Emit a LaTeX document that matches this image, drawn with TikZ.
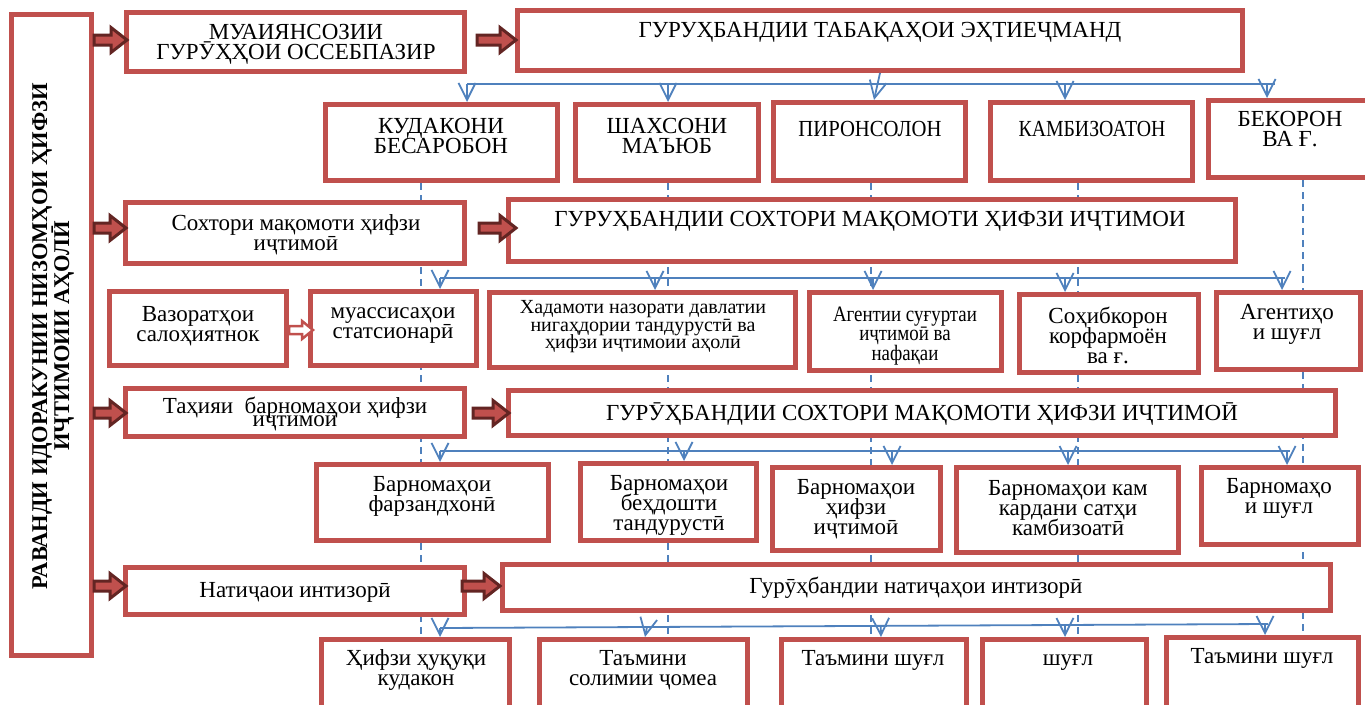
\documentclass[tikz,border=0pt]{standalone}
\usepackage{fontspec}
\setmainfont{Liberation Serif}
\newfontfamily\cndA[FakeStretch=0.9]{Liberation Serif}
\newfontfamily\cndB[FakeStretch=0.86]{Liberation Serif}
\usetikzlibrary{arrows.meta,calc}
\definecolor{boxred}{HTML}{C0504D}
\definecolor{darkred}{HTML}{632523}
\definecolor{lineblue}{HTML}{4F81BD}
\pgfdeclarelayer{bg}
\pgfsetlayers{bg,main}
\newcommand{\tightls}{\lineskiplimit=-100pt\lineskip=0pt\relax}
\newcommand{\bx}[5]{\node[boxst, minimum width={#4-#2-5}, minimum height={#5-#3-5}] (#1) at ({(#2+#4)/2},{(#3+#5)/2}) {};}
\newcommand{\tn}[5][]{\node[txt,#1] (#2) at (#3,#4) {#5};}
\newcommand{\barrow}[2]{\path[blockarr] let \p1=#1, \p2=#2 in (\x1,\y1+5pt) -- (\x2-16pt,\y1+5pt) -- (\x2-16pt,\y1+12.5pt) -- (\x2,\y1) -- (\x2-16pt,\y1-12.5pt) -- (\x2-16pt,\y1-5pt) -- (\x1,\y1-5pt) -- cycle;}
\newcommand{\warrow}[2]{\path[whitearr] let \p1=#1, \p2=#2 in (\x1,\y1+4pt) -- (\x2-11pt,\y1+4pt) -- (\x2-11pt,\y1+9pt) -- (\x2,\y1) -- (\x2-11pt,\y1-9pt) -- (\x2-11pt,\y1-4pt) -- (\x1,\y1-4pt) -- cycle;}
\begin{document}
\begin{tikzpicture}[x=1pt,y=-1pt,
  boxst/.style={draw=boxred, line width=5pt, fill=white, inner sep=0pt, line join=miter},
  txt/.style={inner sep=0pt, align=center, yshift=-2pt, font=\fontsize{23}{20}\selectfont\tightls},
  dashv/.style={draw=lineblue, line width=1.5pt, dash pattern=on 7pt off 5pt},
  conn/.style={draw=lineblue, line width=1.8pt},
  arr/.style={conn, -{Straight Barb[length=17pt,width=17pt,line width=1.8pt]}},
  blockarr/.style={fill=boxred, draw=darkred, line width=3pt, line join=miter},
  whitearr/.style={fill=white, draw=boxred, line width=2.5pt, line join=miter},
]
\useasboundingbox (0,0) rectangle (1365,704);
\clip (0,0) rectangle (1365,704);
\coordinate (r1) at (0,40);
\coordinate (r2) at (0,228);
\coordinate (r3) at (0,413);
\coordinate (r4) at (0,586);
\coordinate (rw) at (0,330);

% boxes
\bx{L}{9}{12}{94}{658}
\bx{A1}{124}{10}{467}{74}
\bx{B1}{515}{8}{1245}{73}
\bx{C1}{323}{102}{560}{183}
\bx{C2}{573}{102}{761}{183}
\bx{C3}{771}{100}{968}{183}
\bx{C4}{988}{100}{1195}{183}
\bx{C5}{1206}{98}{1372}{180}
\bx{A2}{123}{200}{467}{266}
\bx{B2}{506}{197}{1238}{264}
\bx{D0}{107}{289}{289}{368}
\bx{D1}{308}{289}{479}{368}
\bx{D2}{487}{290}{798}{370}
\bx{D3}{807}{290}{1004}{373}
\bx{D4}{1017}{292}{1201}{375}
\bx{D5}{1214}{290}{1363}{372}
\bx{A3}{123}{386}{467}{439}
\bx{B3}{506}{388}{1338}{438}
\bx{E1}{314}{462}{551}{543}
\bx{E2}{578}{461}{759}{543}
\bx{E3}{770}{465}{943}{553}
\bx{E4}{954}{465}{1181}{555}
\bx{E5}{1199}{465}{1361}{547}
\bx{A4}{123}{565}{467}{617}
\bx{B4}{500}{562}{1333}{613}
\bx{F1}{319}{637}{512}{712}
\bx{F2}{537}{637}{750}{712}
\bx{F3}{779}{637}{969}{712}
\bx{F4}{980}{637}{1149}{712}
\bx{F5}{1164}{635}{1361}{712}

% texts
\tn[rotate=90, yshift=0pt, font=\bfseries\fontsize{22.5}{22}\selectfont\tightls]{Lt}{53}{334}{РАВАНДИ ИДОРАКУНИИ НИЗОМҲОИ ҲИФЗИ\\ИҶТИМОИИ АҲОЛӢ}
\tn{A1t}{296}{42}{МУАИЯНСОЗИИ\\ГУРӮҲҲОИ ОССЕБПАЗИР}
\tn{B1t}{880}{30}{ГУРУҲБАНДИИ ТАБАҚАҲОИ ЭҲТИЕҶМАНД}
\tn{C1t}{441}{134}{КУДАКОНИ\\БЕСАРОБОН}
\tn{C2t}{667}{134}{ШАХСОНИ\\МАЪЮБ}
\tn[font=\cndA\fontsize{23}{20}\selectfont]{C3t}{870}{127}{ПИРОНСОЛОН}
\tn[font=\cndB\fontsize{23}{20}\selectfont]{C4t}{1092}{127}{КАМБИЗОАТОН}
\tn{C5t}{1290}{127}{БЕКОРОН\\ВА Ғ.}
\tn{A2t}{296}{233}{Сохтори мақомоти ҳифзи\\иҷтимоӣ}
\tn{B2t}{870}{219}{ГУРУҲБАНДИИ СОХТОРИ МАҚОМОТИ ҲИФЗИ ИҶТИМОИ}
\tn{D0t}{198}{324}{Вазоратҳои\\салоҳиятнок}
\tn{D1t}{393}{324}{муассисаҳои\\статсионарӣ}
\tn[font=\fontsize{20}{17.5}\selectfont\tightls]{D2t}{643}{325}{Хадамоти назорати давлатии\\нигаҳдории тандурустӣ ва\\ҳифзи иҷтимоии аҳолӣ}
\tn[font=\cndB\fontsize{22}{19.5}\selectfont\tightls]{D3t}{905}{334}{Агентии суғуртаи\\иҷтимоӣ ва\\нафақаи}
\tn{D4t}{1108}{333}{Соҳибкорон\\корфармоён\\ва ғ.}
\tn{D5t}{1287}{322}{Агентиҳо\\и шуғл}
\tn[font=\fontsize{23}{13}\selectfont\tightls]{A3t}{295}{412}{Таҳияи \ барномаҳои ҳифзи\\иҷтимоӣ}
\tn{B3t}{922}{412}{ГУРӮҲБАНДИИ СОХТОРИ МАҚОМОТИ ҲИФЗИ ИҶТИМОӢ}
\tn{E1t}{432}{494}{Барномаҳои\\фарзандхонӣ}
\tn{E2t}{669}{503}{Барномаҳои\\беҳдошти\\тандурустӣ}
\tn{E3t}{856}{507}{Барномаҳои\\ҳифзи\\иҷтимоӣ}
\tn{E4t}{1068}{506}{Барномаҳои кам\\кардани сатҳи\\камбизоатӣ}
\tn{E5t}{1279}{496}{Барномаҳо\\и шуғл}
\tn{A4t}{295}{590}{Натиҷаои интизорӣ}
\tn{B4t}{916}{586}{Гурӯҳбандии натиҷаҳои интизорӣ}
\tn{F1t}{416}{668}{Ҳифзи ҳуқуқи\\кудакон}
\tn{F2t}{643}{668}{Таъмини\\солимии ҷомеа}
\tn{F3t}{873}{658}{Таъмини шуғл}
\tn{F4t}{1068}{661}{шуғл}
\tn{F5t}{1262}{656}{Таъмини шуғл}

% dashed verticals behind boxes
\begin{pgfonlayer}{bg}
\draw[dashv] (C1.south -| 421,0) -- (F1.north -| 421,0);
\draw[dashv] (C2.south -| 668,0) -- (F2.north -| 668,0);
\draw[dashv] (C3.south -| 871,0) -- (F3.north -| 871,0);
\draw[dashv] (C4.south -| 1078,0) -- (F4.north -| 1078,0);
\draw[dashv] (C5.south -| 1303,0) -- (F5.north -| 1303,0);
\end{pgfonlayer}

% row 1 connectors
\coordinate (h1a) at (467,84);
\coordinate (h1b) at (1275,84);
\draw[conn] (h1a) -- (h1b);
\draw[arr] (h1a) -- (C1.north -| h1a);
\draw[arr] (h1a -| 668,0) -- (C2.north -| 668,0);
\draw[arr] (B1.south -| 880,0) -- (C3.north -| 874,0);
\draw[arr] (h1a -| 1065,0) -- (C4.north -| 1065,0);
\draw[arr] (h1a -| 1267,0) -- (C5.north -| 1267,0);

% row 3 connectors
\coordinate (h3a) at (440,278);
\coordinate (h3b) at (1285,278);
\draw[conn] (h3a) -- (h3b);
\draw[arr] (h3a) -- (D1.north -| h3a);
\draw[arr] (h3a -| 655,0) -- (D2.north -| 655,0);
\draw[arr] (h3a -| 873,0) -- (D3.north -| 873,0);
\draw[arr] (h3a -| 1065,0) -- (D4.north -| 1065,0);
\draw[arr] (h3a -| 1282,0) -- (D5.north -| 1282,0);

% row 5 connectors
\coordinate (h5a) at (440,451);
\coordinate (h5b) at (1290,451);
\draw[conn] (h5a) -- (h5b);
\draw[arr] (h5a) -- (E1.north -| h5a);
\draw[arr] (h5a -| 684,0) -- (E2.north -| 684,0);
\draw[arr] (h5a -| 892,0) -- (E3.north -| 892,0);
\draw[arr] (h5a -| 1068,0) -- (E4.north -| 1068,0);
\draw[arr] (h5a -| 1287,0) -- (E5.north -| 1287,0);

% row 7 connectors
\coordinate (h7a) at (440,628);
\coordinate (h7b) at (1268,624);
\draw[conn] (h7a) -- (h7b);
\draw[arr] (h7a) -- (F1.north -| h7a);
\draw[arr] ($(h7a)!0.25!(h7b)$) -- (F2.north -| 645,0);
\draw[arr] ($(h7a)!0.5323!(h7b)$) -- (F3.north -| 881,0);
\draw[arr] ($(h7a)!0.7548!(h7b)$) -- (F4.north -| 1065,0);
\draw[arr] ($(h7a)!0.9964!(h7b)$) -- (F5.north -| 1265,0);

% block arrows
\barrow{(L.east |- r1)}{($(A1.west |- r1)+(3,0)$)}
\barrow{($(A1.east |- r1)+(10,0)$)}{($(B1.west |- r1)+(1,0)$)}
\barrow{(L.east |- r2)}{($(A2.west |- r2)+(3,0)$)}
\barrow{($(A2.east |- r2)+(12,0)$)}{($(B2.west |- r2)+(10,0)$)}
\barrow{(L.east |- r3)}{($(A3.west |- r3)+(3,0)$)}
\barrow{($(A3.east |- r3)+(6,0)$)}{($(B3.west |- r3)+(3,0)$)}
\barrow{(L.east |- r4)}{($(A4.west |- r4)+(3,0)$)}
\barrow{($(A4.east |- r4)+(-5,0)$)}{($(B4.west |- r4)+(0,0)$)}
\warrow{(D0.east |- rw)}{($(D1.west |- rw)+(5,0)$)}
\end{tikzpicture}
\end{document}
